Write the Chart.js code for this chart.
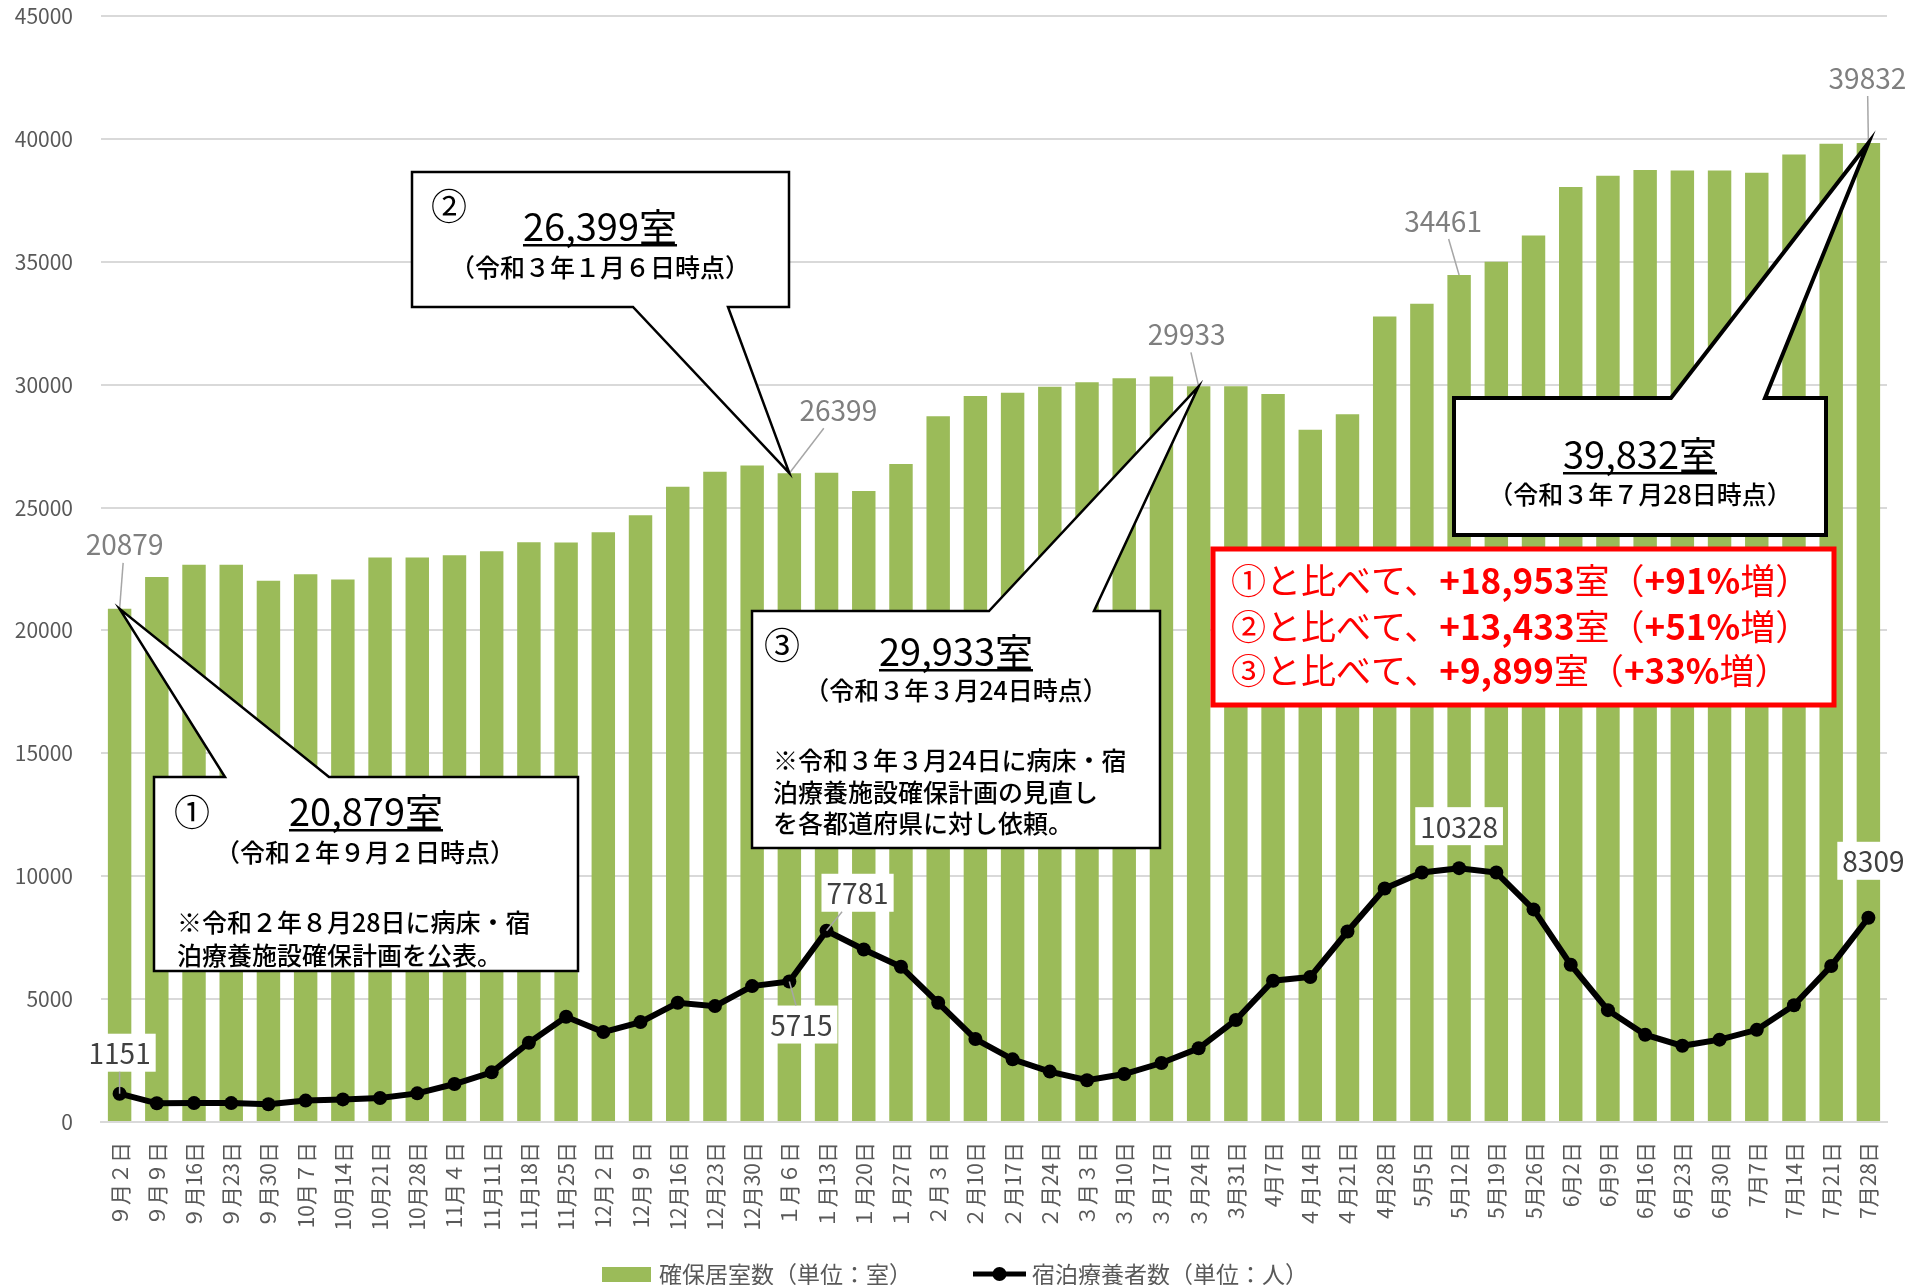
<!DOCTYPE html>
<html lang="ja">
<head>
<meta charset="utf-8">
<script src="https://cdn.jsdelivr.net/npm/chart.js@4.4.1/dist/chart.umd.min.js"></script>
<style>
html, body { margin: 0; padding: 0; background: #fff; }
#wrap { width: 1927px; height: 1285px; position: relative; }
</style>
</head>
<body>
<div id="wrap"><canvas id="chart"></canvas></div>
<script>
// 週ごとの日付
const days = [
  "９月２日", "９月９日", "９月16日", "９月23日", "９月30日",
  "10月７日", "10月14日", "10月21日", "10月28日",
  "11月４日", "11月11日", "11月18日", "11月25日",
  "12月２日", "12月９日", "12月16日", "12月23日", "12月30日",
  "１月６日", "１月13日", "１月20日", "１月27日",
  "２月３日", "２月10日", "２月17日", "２月24日",
  "３月３日", "３月10日", "３月17日", "３月24日", "3月31日",
  "4月7日", "４月14日", "４月21日", "4月28日",
  "5月5日", "5月12日", "5月19日", "5月26日",
  "6月2日", "6月9日", "6月16日", "6月23日", "6月30日",
  "7月7日", "7月14日", "7月21日", "7月28日"
];

// 確保居室数（室）
const rooms = [
  20879, 22170, 22670, 22670, 22020,
  22290, 22070, 22970, 22970,
  23060, 23220, 23590, 23580,
  24000, 24690, 25850, 26460, 26710,
  26399, 26420, 25670, 26770,
  28720, 29540, 29670, 29920,
  30100, 30260, 30330, 29933, 29940,
  29620, 28170, 28800, 32770,
  33290, 34461, 35000, 36070,
  38040, 38500, 38730, 38710, 38710,
  38620, 39360, 39800, 39832
];

// 宿泊療養者数（人）
const patients = [
  1151, 760, 770, 770, 720,
  870, 920, 975, 1165,
  1545, 2020, 3225, 4280,
  3660, 4065, 4850, 4715, 5530,
  5715, 7781, 7020, 6315,
  4850, 3375, 2550, 2050,
  1700, 1950, 2400, 3000, 4150,
  5750, 5900, 7750, 9500,
  10150, 10328, 10150, 8650,
  6400, 4550, 3550, 3100, 3350,
  3750, 4750, 6350, 8309
];

const yMax = 45000;
const yStep = 5000;

const FONT = "'Noto Sans CJK JP', 'Noto Sans', sans-serif";
const GREEN = "#9bbb59";

Chart.defaults.font.family = FONT;
Chart.defaults.color = "#595959";

function fmt(n) { return n.toLocaleString("en-US"); }

// 値ラベル（系列, 位置, ラベル中心のずらし, 引き出し線）
const valueLabels = [
  { ds: 0, i: 0,  dx: 5,   dy: -65, leader: true,  color: "#7f7f7f" },
  { ds: 0, i: 18, dx: 49,  dy: -64, leader: true,  color: "#7f7f7f" },
  { ds: 0, i: 29, dx: -12, dy: -53, leader: true,  color: "#7f7f7f" },
  { ds: 0, i: 36, dx: -16, dy: -55, leader: true,  color: "#7f7f7f" },
  { ds: 0, i: 47, dx: -1,  dy: -66, leader: true,  color: "#7f7f7f" },
  { ds: 1, i: 0,  dx: 0,   dy: -41, leader: true,  color: "#404040" },
  { ds: 1, i: 18, dx: 12,  dy: 43,  leader: true,  color: "#404040" },
  { ds: 1, i: 19, dx: 31,  dy: -38, leader: true,  color: "#404040" },
  { ds: 1, i: 36, dx: 0,   dy: -42, leader: false, color: "#404040" },
  { ds: 1, i: 47, dx: 5,   dy: -57, leader: false, color: "#404040" }
];

const SMALL = "500 25px";
const NOTE = "500 25px";

// 吹き出し
const callouts = [
  {
    i: 0, box: [154, 777, 578, 971], edge: "top", base: [225, 329], lw: 2.5,
    texts: [
      { t: "①", x: 192, y: 812, font: "36px", align: "center" },
      { t: fmt(rooms[0]) + "室", x: 366, y: 812, font: "38px", align: "center", underline: true },
      { t: "（令和２年９月２日時点）", x: 365, y: 852, font: SMALL, align: "center" },
      { t: "※令和２年８月28日に病床・宿", x: 177, y: 922, font: NOTE, align: "left" },
      { t: "泊療養施設確保計画を公表。", x: 177, y: 955, font: NOTE, align: "left" }
    ]
  },
  {
    i: 18, box: [412, 172, 789, 307], edge: "bottom", base: [633, 728], lw: 2.5,
    texts: [
      { t: "②", x: 449, y: 206, font: "36px", align: "center" },
      { t: fmt(rooms[18]) + "室", x: 600, y: 227, font: "38px", align: "center", underline: true },
      { t: "（令和３年１月６日時点）", x: 600, y: 267, font: SMALL, align: "center" }
    ]
  },
  {
    i: 29, box: [752, 611, 1160, 848], edge: "top", base: [989, 1094], lw: 2.5,
    texts: [
      { t: "③", x: 782, y: 645, font: "36px", align: "center" },
      { t: fmt(rooms[29]) + "室", x: 956, y: 652, font: "38px", align: "center", underline: true },
      { t: "（令和３年３月24日時点）", x: 956, y: 690, font: SMALL, align: "center" },
      { t: "※令和３年３月24日に病床・宿", x: 773, y: 760, font: NOTE, align: "left" },
      { t: "泊療養施設確保計画の見直し", x: 773, y: 792, font: NOTE, align: "left" },
      { t: "を各都道府県に対し依頼。", x: 773, y: 823, font: NOTE, align: "left" }
    ]
  },
  {
    i: 47, box: [1454, 398, 1826, 535], edge: "top", base: [1671, 1765], lw: 4,
    texts: [
      { t: fmt(rooms[47]) + "室", x: 1640, y: 455, font: "38px", align: "center", underline: true },
      { t: "（令和３年７月28日時点）", x: 1640, y: 494, font: SMALL, align: "center" }
    ]
  }
];

function drawCallout(ctx, c, tip) {
  const [l, t, r, b] = c.box;
  ctx.save();
  ctx.beginPath();
  ctx.moveTo(l, t);
  if (c.edge === "top") {
    ctx.lineTo(c.base[0], t);
    ctx.lineTo(tip.x, tip.y);
    ctx.lineTo(c.base[1], t);
  }
  ctx.lineTo(r, t);
  ctx.lineTo(r, b);
  if (c.edge === "bottom") {
    ctx.lineTo(c.base[1], b);
    ctx.lineTo(tip.x, tip.y);
    ctx.lineTo(c.base[0], b);
  }
  ctx.lineTo(l, b);
  ctx.closePath();
  ctx.fillStyle = "#fff";
  ctx.fill();
  ctx.lineWidth = c.lw;
  ctx.lineJoin = "miter";
  ctx.strokeStyle = "#000";
  ctx.stroke();

  ctx.fillStyle = "#000";
  ctx.textBaseline = "middle";
  c.texts.forEach(tx => {
    ctx.font = tx.font + " " + FONT;
    ctx.textAlign = tx.align;
    ctx.fillText(tx.t, tx.x, tx.y);
    if (tx.underline) {
      const w = ctx.measureText(tx.t).width;
      const x0 = tx.align === "center" ? tx.x - w / 2 : tx.x;
      ctx.fillRect(x0, tx.y + 17, w, 2.5);
    }
  });
  ctx.restore();
}

// 比較の赤枠
function drawCompare(ctx) {
  const last = rooms[rooms.length - 1];
  const refs = [["①", rooms[0]], ["②", rooms[18]], ["③", rooms[29]]];
  const box = [1213, 549, 1834, 705];
  ctx.save();
  ctx.fillStyle = "#fff";
  ctx.fillRect(box[0], box[1], box[2] - box[0], box[3] - box[1]);
  ctx.lineWidth = 5;
  ctx.strokeStyle = "#ff0000";
  ctx.strokeRect(box[0], box[1], box[2] - box[0], box[3] - box[1]);
  ctx.fillStyle = "#ff0000";
  ctx.textBaseline = "middle";
  ctx.textAlign = "left";
  const ys = [581, 627, 671];
  refs.forEach((r, k) => {
    const diff = last - r[1];
    const pct = Math.round(diff / r[1] * 100);
    const parts = [
      [r[0] + "と比べて、", ""],
      ["+" + fmt(diff), "bold "],
      ["室（", ""],
      ["+" + pct + "%", "bold "],
      ["増）", ""]
    ];
    let x = 1231;
    parts.forEach(p => {
      ctx.font = p[1] + "35px " + FONT;
      ctx.fillText(p[0], x, ys[k]);
      x += ctx.measureText(p[0]).width;
    });
  });
  ctx.restore();
}

function drawValueLabel(ctx, chart, v) {
  const el = chart.getDatasetMeta(v.ds).data[v.i];
  const val = chart.data.datasets[v.ds].data[v.i];
  const px = el.x, py = el.y;
  const cx = px + v.dx, cy = py + v.dy;
  const text = String(val);
  ctx.save();
  ctx.font = "28px " + FONT;
  const w = ctx.measureText(text).width + 10;
  const h = 38;
  ctx.fillStyle = "#fff";
  ctx.fillRect(cx - w / 2, cy - h / 2, w, h);
  if (v.leader) {
    const dx = px - cx, dy = py - cy;
    const s = Math.min(dx ? (w / 2) / Math.abs(dx) : Infinity, dy ? (h / 2) / Math.abs(dy) : Infinity);
    if (s < 1) {
      ctx.beginPath();
      ctx.moveTo(cx + dx * s, cy + dy * s);
      ctx.lineTo(px, py);
      ctx.lineWidth = 1.5;
      ctx.strokeStyle = "#a6a6a6";
      ctx.stroke();
    }
  }
  ctx.fillStyle = v.color;
  ctx.textAlign = "center";
  ctx.textBaseline = "middle";
  ctx.fillText(text, cx, cy + 1);
  ctx.restore();
}

function drawLegend(ctx, chart) {
  const ds = chart.data.datasets;
  const y = 1274;
  ctx.save();
  ctx.font = "23px " + FONT;
  ctx.textBaseline = "middle";
  ctx.textAlign = "left";
  let x = 602;
  ctx.fillStyle = GREEN;
  ctx.fillRect(x, y - 7, 49, 15);
  ctx.fillStyle = "#595959";
  ctx.fillText(ds[0].label, x + 57, y);
  x = 973;
  ctx.beginPath();
  ctx.moveTo(x, y);
  ctx.lineTo(x + 53, y);
  ctx.lineWidth = 5;
  ctx.strokeStyle = "#000";
  ctx.stroke();
  ctx.beginPath();
  ctx.arc(x + 26.5, y, 7, 0, Math.PI * 2);
  ctx.fillStyle = "#000";
  ctx.fill();
  ctx.fillStyle = "#595959";
  ctx.fillText(ds[1].label, x + 59, y);
  ctx.restore();
}

const annotate = {
  id: "annotate",
  afterDatasetsDraw(chart) {
    const ctx = chart.ctx;
    valueLabels.forEach(v => drawValueLabel(ctx, chart, v));
    const bars = chart.getDatasetMeta(0).data;
    callouts.forEach(c => {
      const el = bars[c.i];
      drawCallout(ctx, c, { x: el.x, y: el.y });
    });
    drawCompare(ctx);
    drawLegend(ctx, chart);
  }
};

window.onload = main;

function main() {
  new Chart(document.getElementById("chart"), {
    type: "bar",
    data: {
      labels: days,
      datasets: [
        {
          type: "bar",
          label: "確保居室数（単位：室）",
          data: rooms,
          backgroundColor: GREEN,
          barPercentage: 0.63,
          categoryPercentage: 1,
          order: 1
        },
        {
          type: "line",
          label: "宿泊療養者数（単位：人）",
          data: patients,
          borderColor: "#000",
          borderWidth: 6,
          backgroundColor: "#000",
          pointRadius: 7,
          pointBackgroundColor: "#000",
          pointBorderWidth: 0,
          tension: 0,
          order: 0
        }
      ]
    },
    options: {
      responsive: false,
      animation: false,
      devicePixelRatio: 1,
      layout: { padding: { top: 16, right: 40, bottom: 40, left: 0 } },
      plugins: {
        legend: { display: false },
        tooltip: { enabled: false }
      },
      scales: {
        x: {
          grid: { display: false },
          border: { display: true, color: "#d9d9d9", width: 2 },
          ticks: {
            autoSkip: false,
            maxRotation: 90,
            minRotation: 90,
            padding: 12,
            color: "#595959",
            font: { size: 21 }
          },
          afterFit(s) { s.height = 123; }
        },
        y: {
          min: 0,
          max: yMax,
          border: { display: false },
          grid: { color: "#d9d9d9", lineWidth: 2, drawTicks: false },
          ticks: {
            stepSize: yStep,
            padding: 28,
            color: "#595959",
            font: { size: 21 },
            callback: v => String(v)
          },
          afterFit(s) {
            s.width = 101;
            s.paddingTop = 0;
            s.paddingBottom = 0;
          }
        }
      }
    },
    plugins: [annotate]
  });
}

// canvas size
const cv = document.getElementById("chart");
cv.width = 1927;
cv.height = 1285;
cv.style.width = "1927px";
cv.style.height = "1285px";
</script>
</body>
</html>
